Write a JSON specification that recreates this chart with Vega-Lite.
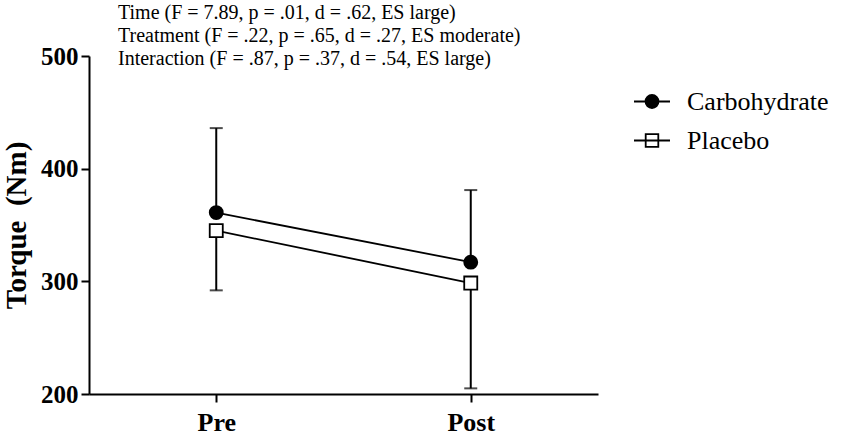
{
  "$schema": "https://vega.github.io/schema/vega-lite/v6.json",
  "autosize": {"type": "none"},
  "padding": {"left": 89, "top": 56, "right": 249, "bottom": 41},
  "width": 509,
  "height": 338,
  "background": "white",
  "config": {
    "view": {"stroke": null},
    "font": "Liberation Serif",
    "axis": {
      "domainColor": "black", "domainWidth": 2, "tickColor": "black", "tickWidth": 2, "tickSize": 8,
      "labelColor": "black", "labelFont": "Liberation Serif", "labelFontWeight": "bold", "grid": false,
      "titleColor": "black", "titleFont": "Liberation Serif", "titleFontWeight": "bold"
    }
  },
  "title": {
    "text": ["Time (F = 7.89, p = .01, d = .62, ES large)", "Treatment (F = .22, p = .65, d = .27, ES moderate)", "Interaction (F = .87, p = .37, d = .54, ES large)"],
    "anchor": "start", "frame": "group", "dx": 29, "offset": -25,
    "font": "Liberation Serif", "fontSize": 20, "fontWeight": "normal", "lineHeight": 23, "color": "black"
  },
  "data": {"values": [
    {"time": "Pre", "group": "Carbohydrate", "torque": 361, "err": 436},
    {"time": "Post", "group": "Carbohydrate", "torque": 317, "err": 381},
    {"time": "Pre", "group": "Placebo", "torque": 345, "err": 292},
    {"time": "Post", "group": "Placebo", "torque": 298.5, "err": 205}
  ]},
  "encoding": {
    "x": {"field": "time", "type": "nominal", "scale": {"type": "point", "domain": ["Pre", "Post"], "padding": 0.5},
      "axis": {"title": null, "labelAngle": 0, "labelFontSize": 26, "labelPadding": 7}},
    "y": {"field": "torque", "type": "quantitative", "scale": {"domain": [200, 500], "nice": false, "zero": false},
      "axis": {"title": "Torque\u00a0\u00a0(Nm)", "values": [200, 300, 400, 500], "labelFontSize": 25, "labelPadding": 3, "titleFontSize": 29, "titlePadding": 9}}
  },
  "layer": [
    {"mark": {"type": "line", "color": "black", "strokeWidth": 1.8}, "encoding": {"detail": {"field": "group"}}},
    {"mark": {"type": "rule", "color": "black", "strokeWidth": 2}, "encoding": {"y2": {"field": "err"}}},
    {"mark": {"type": "tick", "orient": "horizontal", "color": "black", "thickness": 2, "size": 13}, "encoding": {"y": {"field": "err", "type": "quantitative"}}},
    {"mark": {"type": "point", "filled": true, "stroke": "black", "strokeWidth": 1.8, "opacity": 1, "size": 1},
      "encoding": {
        "color": {"field": "group", "type": "nominal", "scale": {"domain": ["Carbohydrate", "Placebo"], "range": ["black", "white"]},
          "legend": {"title": null, "orient": "none", "legendX": 544, "legendY": 27, "labelFontSize": 26, "labelFont": "Liberation Serif", "labelColor": "black",
            "symbolSize": 1296, "symbolStrokeColor": "black", "symbolStrokeWidth": 1.8, "labelOffset": 16, "rowPadding": 2, "clipHeight": 37}},
        "shape": {"field": "group", "type": "nominal", "scale": {"domain": ["Carbohydrate", "Placebo"],
          "range": ["M-1,0H-0.35M0.35,0H1M-0.36,0A0.36,0.36 0 1,1 0.36,0A0.36,0.36 0 1,1 -0.36,0Z", "M-1,0H1M-0.35,-0.35H0.35V0.35H-0.35Z"]},
          "legend": {"title": null, "orient": "none", "legendX": 544, "legendY": 27, "labelFontSize": 26, "labelFont": "Liberation Serif", "labelColor": "black",
            "symbolSize": 1296, "symbolStrokeColor": "black", "symbolStrokeWidth": 1.8, "labelOffset": 16, "rowPadding": 2, "clipHeight": 37}}
      }},
    {"transform": [{"filter": "datum.group === 'Carbohydrate'"}],
      "mark": {"type": "point", "shape": "circle", "filled": true, "fill": "black", "stroke": "black", "strokeWidth": 1.8, "opacity": 1, "size": 170}},
    {"transform": [{"filter": "datum.group === 'Placebo'"}],
      "mark": {"type": "point", "shape": "square", "filled": true, "fill": "white", "stroke": "black", "strokeWidth": 1.8, "opacity": 1, "size": 170}}
  ]
}
